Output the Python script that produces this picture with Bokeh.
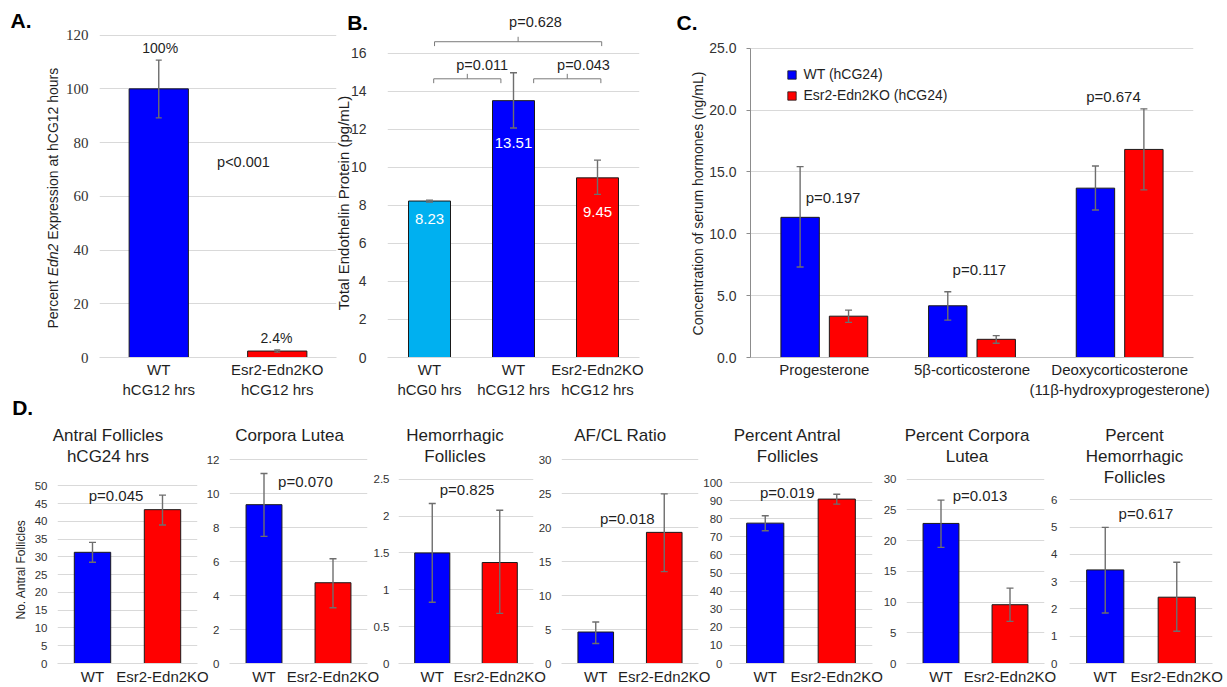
from math import pi
from bokeh.plotting import figure
from bokeh.models import (ColumnDataSource, FactorRange, Range1d, FixedTicker, Label,
                          Legend, LegendItem, NumeralTickFormatter)
from bokeh.layouts import row, column
from bokeh.transform import dodge
from bokeh.core.properties import value
from bokeh.embed import file_html
from bokeh.resources import INLINE

# ---------------- data ----------------
# Panel A
a_categories = ["WT\nhCG12 hrs", "Esr2-Edn2KO\nhCG12 hrs"]
a_values = [100.0, 2.4]
a_err_low = [89.2, 2.0]
a_err_high = [110.7, 2.8]
a_value_labels = ["100%", "2.4%"]
a_pvalue = "p<0.001"
a_yticks = [0, 20, 40, 60, 80, 100, 120]

# Panel B
b_categories = ["WT\nhCG0 hrs", "WT\nhCG12 hrs", "Esr2-Edn2KO\nhCG12 hrs"]
b_values = [8.23, 13.51, 9.45]
b_err_low = [8.18, 12.07, 8.58]
b_err_high = [8.28, 14.98, 10.38]
b_value_labels = ["8.23", "13.51", "9.45"]
b_pvalues = ["p=0.011", "p=0.043", "p=0.628"]
b_yticks = [0, 2, 4, 6, 8, 10, 12, 14, 16]

# Panel C
c_groups = ["Progesterone", "5β-corticosterone", "Deoxycorticosterone\n(11β-hydroxyprogesterone)"]
c_series = ["WT (hCG24)", "Esr2-Edn2KO (hCG24)"]
c_wt = [11.33, 4.18, 13.69]
c_wt_low = [7.31, 3.02, 11.92]
c_wt_high = [15.43, 5.31, 15.48]
c_ko = [3.34, 1.47, 16.82]
c_ko_low = [2.84, 1.15, 13.55]
c_ko_high = [3.83, 1.77, 20.10]
c_pvalues = ["p=0.197", "p=0.117", "p=0.674"]
c_yticks = [0, 5, 10, 15, 20, 25]

# Panel D
d_titles = ["Antral Follicles\nhCG24 hrs", "Corpora Lutea", "Hemorrhagic\nFollicles",
            "AF/CL Ratio", "Percent Antral\nFollicles", "Percent Corpora\nLutea",
            "Percent\nHemorrhagic\nFollicles"]
d_categories = ["WT", "Esr2-Edn2KO"]
d_wt = [31.3, 9.36, 1.50, 4.64, 77.6, 22.8, 3.43]
d_wt_low = [28.5, 7.49, 0.83, 2.94, 73.4, 18.9, 1.85]
d_wt_high = [34.1, 11.2, 2.17, 6.11, 81.7, 26.6, 4.99]
d_ko = [43.3, 4.76, 1.37, 19.33, 90.9, 9.57, 2.43]
d_ko_low = [39.0, 3.29, 0.68, 13.55, 88.1, 6.86, 1.18]
d_ko_high = [47.4, 6.17, 2.08, 25.0, 93.6, 12.27, 3.71]
d_pvalues = ["p=0.045", "p=0.070", "p=0.825", "p=0.018", "p=0.019", "p=0.013", "p=0.617"]
d_yticks = [list(range(0, 51, 5)), list(range(0, 13, 2)), [0, 0.5, 1, 1.5, 2, 2.5],
            list(range(0, 31, 5)), list(range(0, 101, 10)), list(range(0, 31, 5)),
            list(range(0, 7))]
d_ylabel = "No. Antral Follicles"

# ---------------- style ----------------
SANS = "Liberation Sans"
SERIF = "Liberation Serif"
TXT = "#1f1f1f"
TICK = "#333333"
GRID = "#d9d9d9"
ERRC = "#6e6e6e"
EDGE = "#1a1a1a"
BLUE = "#0000ff"
RED = "#ff0000"
CYAN = "#00b0f0"
PAGE_W, PAGE_H = 1227, 687


def base(width, height, factors, y_end, yticks, bl, br, bt, bb):
    p = figure(width=width, height=height, x_range=FactorRange(factors=list(factors)),
               y_range=Range1d(0, y_end), output_backend="svg", toolbar_location=None,
               min_border_left=bl, min_border_right=br, min_border_top=bt, min_border_bottom=bb)
    p.outline_line_color = None
    p.border_fill_color = None
    p.xgrid.grid_line_color = None
    p.ygrid.grid_line_color = GRID
    p.ygrid.grid_line_width = 1
    t = FixedTicker(ticks=yticks)
    p.yaxis.ticker = t
    p.ygrid.ticker = t
    ya = p.yaxis[0]
    xa = p.xaxis[0]
    ya.axis_line_color = None
    ya.major_tick_line_color = None
    ya.minor_tick_line_color = None
    ya.major_tick_out = 0
    ya.major_tick_in = 0
    ya.minor_tick_out = 0
    ya.minor_tick_in = 0
    ya.major_label_text_font = SANS
    ya.major_label_text_color = TICK
    xa.axis_line_color = GRID
    xa.major_tick_line_color = None
    xa.minor_tick_line_color = None
    xa.major_tick_out = 0
    xa.major_tick_in = 0
    xa.major_label_text_font = SANS
    xa.major_label_text_color = TXT
    xa.major_label_text_font_size = "15px"
    xa.major_label_standoff = 3
    return p


def errorbars(p, src, xspec, low, high, cap):
    p.segment(x0=xspec, y0=low, x1=xspec, y1=high, source=src, line_color=ERRC, line_width=1.4)
    for col in (low, high):
        p.scatter(x=xspec, y=col, source=src, marker="dash", size=cap,
                  line_color=ERRC, line_width=1.4)


def ptext(p, xs, ys, texts, size, color=TXT):
    p.text(x=xs, y=ys, text=texts, text_font=value(SANS), text_font_size=size,
           text_align="center", text_baseline="middle", text_color=color)


# ---------------- overlay for free-standing texts (page pixel coords) ----------------
ov = figure(width=PAGE_W, height=PAGE_H, x_range=Range1d(0, 1), y_range=Range1d(0, 1),
            x_axis_type=None, y_axis_type=None, output_backend="svg", toolbar_location=None,
            min_border_left=0, min_border_right=0, min_border_top=0, min_border_bottom=0)
ov.outline_line_color = None
ov.border_fill_color = None
ov.background_fill_color = None
ov.margin = (-PAGE_H, 0, 0, 0)


def olabel(X, Y, text, size, style="normal", angle=0.0, align="center", color=TXT, font=SANS):
    ov.add_layout(Label(x=X, y=PAGE_H - Y, x_units="screen", y_units="screen", text=text,
                        text_font=font, text_font_size=size, text_font_style=style,
                        text_color=color, text_align=align, text_baseline="middle", angle=angle))


TOP_H, TOP_BT, TOP_BB = 400, 11, 41   # top row frames span y 11..359

# ---------------- Panel A ----------------
pa = base(337, TOP_H, a_categories, 128.8, a_yticks, 99, 1, TOP_BT, TOP_BB)
pa.yaxis.major_label_text_font = SERIF
pa.yaxis.major_label_text_font_size = "15px"
pa.yaxis.major_label_standoff = 11
src_a = ColumnDataSource(dict(x=a_categories, top=a_values, low=a_err_low, high=a_err_high,
                              color=[BLUE, RED]))
pa.vbar(x="x", top="top", width=0.5, source=src_a, fill_color="color", line_color=EDGE, line_width=1)
errorbars(pa, src_a, "x", "low", "high", 6)
ptext(pa, [0.512, 1.494], [115.1, 7.3], a_value_labels, "14px")
ptext(pa, [1.215], [72.6], [a_pvalue], "14.5px")
olabel(10, 20, "A.", "21px", style="bold", align="left", color="#000000")
olabel(52, 328, "Percent", "14px", angle=pi / 2, align="left")
olabel(52, 275.8, "Edn2", "14px", style="italic", angle=pi / 2, align="left")
olabel(52, 239.2, "Expression at hCG12 hours", "14px", angle=pi / 2, align="left")

# ---------------- Panel B ----------------
pb = base(313, TOP_H, b_categories, 18.2, b_yticks, 50, 11, TOP_BT, TOP_BB)
pb.yaxis.major_label_text_font_size = "14px"
pb.yaxis.major_label_standoff = 21
src_b = ColumnDataSource(dict(x=b_categories, top=b_values, low=b_err_low, high=b_err_high,
                              color=[CYAN, BLUE, RED]))
pb.vbar(x="x", top="top", width=0.5, source=src_b, fill_color="color", line_color=EDGE, line_width=1)
errorbars(pb, src_b, "x", "low", "high", 7)
ptext(pb, [0.5, 1.5, 2.5], [7.28, 11.26, 7.65], b_value_labels, "15px", color="#ffffff")
# comparison brackets (annotation geometry)
br_left = [0.55, 1.74, 0.56]
br_right = [1.35, 2.54, 2.55]
br_y = [14.66, 14.66, 16.61]
bx0, by0, bx1, by1 = [], [], [], []
for l, r, y in zip(br_left, br_right, br_y):
    mid = (l + r) / 2
    bx0 += [l, l, r, mid]
    by0 += [y, y - 0.23, y - 0.23, y]
    bx1 += [r, l, r, mid]
    by1 += [y, y, y, y + 0.26]
pb.segment(x0=bx0, y0=by0, x1=bx1, y1=by1, line_color="#7a7a7a", line_width=1)
ptext(pb, [1.127, 2.333, 1.762], [15.39, 15.39, 17.65], b_pvalues, "14.5px")
olabel(346.7, 21.7, "B.", "21px", style="bold", align="left", color="#000000")
olabel(342.5, 202.5, "Total Endothelin Protein (pg/mL)", "15px", angle=pi / 2)

# ---------------- Panel C ----------------
pc = base(577, TOP_H, c_groups, 27.97, c_yticks, 100, 34, TOP_BT, TOP_BB)
pc.yaxis.formatter = NumeralTickFormatter(format="0.0")
pc.yaxis.major_label_text_font_size = "14px"
pc.yaxis.major_label_standoff = 10
pc.yaxis.axis_line_color = "#8c8c8c"
pc.yaxis.major_tick_line_color = "#8c8c8c"
pc.yaxis.major_tick_out = 4
pc.yaxis.bounds = (0, 25)
pc.xaxis.axis_line_color = "#bfbfbf"
src_c = ColumnDataSource(dict(g=c_groups, wt=c_wt, wl=c_wt_low, wh=c_wt_high,
                              ko=c_ko, kl=c_ko_low, kh=c_ko_high))
x_wt = dodge("g", -0.164, range=pc.x_range)
x_ko = dodge("g", 0.164, range=pc.x_range)
pc.vbar(x=x_wt, top="wt", width=0.26, source=src_c, fill_color=BLUE, line_color=EDGE, line_width=1)
pc.vbar(x=x_ko, top="ko", width=0.26, source=src_c, fill_color=RED, line_color=EDGE, line_width=1)
errorbars(pc, src_c, x_wt, "wl", "wh", 7)
errorbars(pc, src_c, x_ko, "kl", "kh", 7)
ptext(pc, [0.559, 1.55, 2.458], [12.97, 7.1, 21.08], c_pvalues, "15px")
proxy_wt = pc.scatter(x=x_wt, y="wt", source=src_c, marker="square", size=9, fill_color=BLUE,
                      line_color=EDGE, line_width=0.8, visible=False)
proxy_ko = pc.scatter(x=x_ko, y="ko", source=src_c, marker="square", size=9, fill_color=RED,
                      line_color=EDGE, line_width=0.8, visible=False)
legend = Legend(items=[LegendItem(label=c_series[0], renderers=[proxy_wt], index=0),
                       LegendItem(label=c_series[1], renderers=[proxy_ko], index=0)],
                location=(30.5, 251.5), orientation="vertical",
                glyph_width=21, glyph_height=21, label_height=21, label_standoff=2,
                spacing=0, padding=0, margin=0, border_line_color=None,
                background_fill_alpha=0, label_text_font=SANS, label_text_font_size="14px",
                label_text_color=TXT)
pc.add_layout(legend)
olabel(676, 22, "C.", "21px", style="bold", align="left", color="#000000")
olabel(697, 203, "Concentration of serum hormones (ng/mL)", "14px", angle=pi / 2)

# ---------------- Panel D ----------------
BOT_H, BOT_BB = 287, 23      # frames span y 400..664
d_frame_left = [57, 228, 397, 559, 727, 905, 1068]
d_fig_left = [0, 203, 370, 535, 700, 880, 1048]
d_fig_right = [210, 380, 547, 711, 884, 1057, 1227]
d_frame_w = [140, 139, 136, 139, 145, 139, 144]
d_tick_standoff = [10, 10, 9, 10, 7, 10, 12]
d_view_top = [74.03, 15.50, 3.568, 38.77, 145.4, 42.81, 9.639]
d_title_x = [107.5, 289, 454.5, 620, 787, 966.5, 1134]
d_p_x = [0.836, 1.10, 1.015, 0.961, 0.807, 1.065, 1.069]
d_p_y = [47.2, 10.72, 2.365, 21.34, 94.3, 27.3, 5.48]

d_figs = []
for i in range(7):
    w = d_fig_right[i] - d_fig_left[i]
    bl = d_frame_left[i] - d_fig_left[i]
    brd = w - bl - d_frame_w[i]
    p = base(w, BOT_H, d_categories, d_view_top[i], d_yticks[i], bl, brd, 0, BOT_BB)
    if i > 0:
        p.margin = (0, 0, 0, -(d_fig_right[i - 1] - d_fig_left[i]))
    p.yaxis.formatter = NumeralTickFormatter(format="0.[0]")
    p.yaxis.major_label_text_font_size = "11.5px"
    p.yaxis.major_label_standoff = d_tick_standoff[i]
    p.xaxis.major_label_standoff = 4
    src = ColumnDataSource(dict(x=d_categories, top=[d_wt[i], d_ko[i]],
                                low=[d_wt_low[i], d_ko_low[i]], high=[d_wt_high[i], d_ko_high[i]],
                                color=[BLUE, RED]))
    p.vbar(x="x", top="top", width=0.52, source=src, fill_color="color", line_color=EDGE, line_width=1)
    errorbars(p, src, "x", "low", "high", 7)
    ptext(p, [d_p_x[i]], [d_p_y[i]], [d_pvalues[i]], "15px")
    for k, line in enumerate(d_titles[i].split("\n")):
        olabel(d_title_x[i], 435 + 20.8 * k, line, "17px")
    d_figs.append(p)

olabel(11.7, 406.7, "D.", "21px", style="bold", align="left", color="#000000")
olabel(20, 569, d_ylabel, "12px", angle=pi / 2)

layout = column(row(pa, pb, pc), row(*d_figs), ov)
open("out.html", "w").write(file_html(layout, INLINE))
